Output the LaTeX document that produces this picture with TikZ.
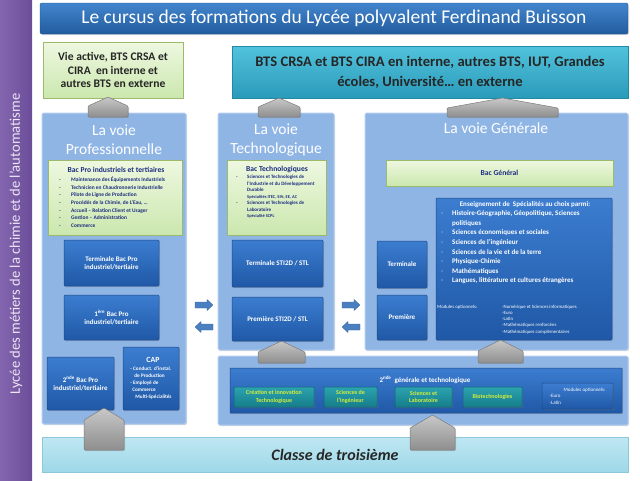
\documentclass[tikz,border=0pt]{standalone}
\usepackage{fontspec}
\setmainfont{Carlito}
\usetikzlibrary{shadows}
\definecolor{purpT}{HTML}{8466B0}
\definecolor{purpD}{HTML}{6B4C98}
\definecolor{lav}{HTML}{ECE6F5}
\definecolor{titT}{HTML}{4285CC}
\definecolor{titD}{HTML}{225C9E}
\definecolor{titB}{HTML}{1E4F8A}
\definecolor{gT}{HTML}{EEF8E0}
\definecolor{gD}{HTML}{CBE7AE}
\definecolor{gB}{HTML}{9CBB6A}
\definecolor{cyT}{HTML}{52C3DC}
\definecolor{cyD}{HTML}{2A9ABA}
\definecolor{cyB}{HTML}{2289A5}
\definecolor{panF}{HTML}{8FB5E5}
\definecolor{panB}{HTML}{B3CDEF}
\definecolor{dbT}{HTML}{3C7DD0}
\definecolor{dbD}{HTML}{1F58A6}
\definecolor{dbB}{HTML}{214C86}
\definecolor{tlT}{HTML}{2BA3AF}
\definecolor{tlD}{HTML}{167D8A}
\definecolor{tlB}{HTML}{0E6570}
\definecolor{ygreen}{HTML}{D4EE3A}
\definecolor{navy}{HTML}{1C2D80}
\definecolor{trT}{HTML}{BFE7F2}
\definecolor{trD}{HTML}{9ED8E8}
\definecolor{trB}{HTML}{8CC8DA}
\definecolor{arB}{HTML}{4A7FC0}
\definecolor{grT}{HTML}{C8C8C8}
\definecolor{grD}{HTML}{8E8E8E}
\definecolor{grB}{HTML}{7A7A7A}
\definecolor{bulG}{HTML}{9DB8DE}
\newcommand\myfs[2]{\fontsize{#1}{#2}\selectfont}
\begin{document}
\begin{tikzpicture}[x=1pt,y=-1pt,
  shad/.style={drop shadow={shadow xshift=1pt,shadow yshift=-1.2pt,opacity=0.3}},
  panel/.style={draw=panB,fill=panF,line width=1pt,rounded corners=1.5pt,shad,inner sep=0pt},
  dbox/.style={draw=dbB,top color=dbT,bottom color=dbD,line width=0.5pt,rounded corners=1pt,text=white,font=\bfseries\myfs{7}{8.6},align=center,inner sep=1pt,shad},
  gbox/.style={draw=gB,top color=gT,bottom color=gD,line width=0.6pt,inner sep=0pt,shad},
  tbox/.style={draw=tlB,top color=tlT,bottom color=tlD,line width=0.5pt,rounded corners=0.8pt,text=ygreen,font=\bfseries\myfs{6}{7.3},align=center,inner sep=0.5pt,shad},
  pent/.style={draw=grB,top color=grT,bottom color=grD,line width=0.5pt,rounded corners=1pt,shad},
  barrow/.style={fill=arB,draw=arB!80!black,line width=0.3pt},
  ptitle/.style={text=white,font=\myfs{15.5}{19},align=center,inner sep=0pt},
  lst/.style={anchor=north west,inner sep=0pt,align=left},
]
\useasboundingbox (0,0) rectangle (640,480);
% side bar
\shade[left color=purpT,right color=purpD] (0,0) rectangle (32,480);
\node[rotate=90,text=lav,font=\myfs{14.6}{16},inner sep=0pt] (side) at (16,244) {Lycée des métiers de la chimie et de l’automatisme};
% title
\node[draw=titB,top color=titT,bottom color=titD,rounded corners=2pt,minimum width=588,minimum height=31,text=white,font=\myfs{19.5}{22},shad,inner sep=0pt] (title) at (334,18.5) {Le cursus des formations du Lycée polyvalent Ferdinand Buisson};
% top outcomes
\node[gbox,minimum width=140,minimum height=56,font=\bfseries\myfs{11.6}{13.5},text=black!85,align=center] (vie) at (113,70) {Vie active, BTS CRSA et\\CIRA\ \ en interne et\\autres BTS en externe};
\node[draw=cyB,top color=cyT,bottom color=cyD,minimum width=396,minimum height=52,font=\bfseries\myfs{14.6}{20},text=black!85,align=center,shad,inner sep=0pt] (bts) at (430,72) {BTS CRSA et BTS CIRA en interne, autres BTS, IUT, Grandes\\écoles, Université… en externe};
% bottom bar
\node[draw=trB,top color=trT,bottom color=trD,minimum width=586,minimum height=35,font=\bfseries\itshape\myfs{16}{18},text=black!85,shad,inner sep=0pt] (troisieme) at (335,454.5) {Classe de troisième};
% panels
\node[panel,minimum width=144,minimum height=311] (pro) at (114,268.5) {};
\node[panel,minimum width=116,minimum height=237] (tech) at (276,231.5) {};
\node[panel,minimum width=263,minimum height=237] (gen) at (496.5,231.5) {};
\node[panel,minimum width=410,minimum height=69] (sec) at (423,390.5) {};
\node[ptitle] (protitle) at (114,140) {La voie\\Professionnelle};
\node[ptitle] (techtitle) at (276,140) {La voie\\Technologique};
\node[ptitle] (gentitle) at (496,128) {La voie Générale};
% pro contents
\node[gbox,minimum width=134,minimum height=75] (probac) at (115,197.5) {};
\node[text=navy,font=\bfseries\myfs{7.6}{9},inner sep=0pt] (probact) at (116,170) {Bac Pro industriels et tertiaires};
\node[lst,text=navy,font=\bfseries\myfs{5.4}{7.6}] (prolist) at (59,177) {\makebox[12pt][l]{-}Maintenance des Équipements Industriels\\\makebox[12pt][l]{-}Technicien en Chaudronnerie Industrielle\\\makebox[12pt][l]{-}Pilote de Ligne de Production\\\makebox[12pt][l]{-}Procédés de la Chimie, de L’Eau, …\\\makebox[12pt][l]{-}Accueil – Relation Client et Usager\\\makebox[12pt][l]{-}Gestion – Administration\\\makebox[12pt][l]{-}Commerce};
\node[dbox,minimum width=95,minimum height=46] (proterm) at (111.5,263) {Terminale Bac Pro\\industriel/tertiaire};
\node[dbox,minimum width=95,minimum height=45] (propre) at (111.5,317.5) {1\textsuperscript{ère} Bac Pro\\industriel/tertiaire};
\node[dbox,minimum width=67,minimum height=53] (prosec) at (80.5,383.5) {2\textsuperscript{nde} Bac Pro\\industriel/tertiaire};
\node[dbox,minimum width=56,minimum height=63,align=left,font=\bfseries\myfs{5.2}{7}] (cap) at (151,378.5) {\hspace*{16pt}{\myfs{7.8}{9}CAP}\\[1.5pt]- Conduct. d’instal.\\\hspace*{4pt}de Production\\- Employé de\\\hspace*{2pt}Commerce\\\hspace*{5pt}Multi-Spécialités};
% tech contents
\node[gbox,minimum width=99,minimum height=75] (techbac) at (276.5,197.5) {};
\node[text=navy,font=\bfseries\myfs{7.6}{9},inner sep=0pt] (techbact) at (277,169) {Bac Technologiques};
\node[lst,text=navy,font=\bfseries\myfs{5}{6.5}] (techlist) at (236,175) {\makebox[11pt][l]{-}Sciences et Technologies de\\\hspace*{11pt}l’Industrie et du Développement\\\hspace*{11pt}Durable\\\hspace*{11pt}{\myfs{4.4}{6.5}Spécialités ITEC, SIN, EE, AC}\\\makebox[11pt][l]{-}Sciences et Technologies de\\\hspace*{11pt}Laboratoire\\\hspace*{11pt}{\myfs{4.4}{6.5}Spécialité SCPL}};
\node[dbox,minimum width=91,minimum height=47] (techterm) at (277.5,263.5) {Terminale STI2D / STL};
\node[dbox,minimum width=91,minimum height=44] (techpre) at (277.5,319) {Première STI2D / STL};
% general contents
\node[gbox,minimum width=227,minimum height=26,text=navy,font=\bfseries\myfs{7.6}{9}] (genbac) at (499.5,173) {Bac Général};
\node[dbox,minimum width=50,minimum height=47] (genterm) at (402,264.5) {Terminale};
\node[dbox,minimum width=50,minimum height=45] (genpre) at (402,317.5) {Première};
\node[dbox,minimum width=176,minimum height=142] (spec) at (524,269) {};
\node[text=white,font=\bfseries\myfs{7}{8},inner sep=0pt] (spech) at (525,205) {Enseignement de\ \ Spécialités au choix parmi:};
\node[lst,text=white,font=\bfseries\myfs{7}{9.6}] (speclist) at (441,210.5) {\makebox[11pt][l]{\color{bulG}-}Histoire-Géographie, Géopolitique, Sciences\\\hspace*{11pt}politiques\\\makebox[11pt][l]{\color{bulG}-}Sciences économiques et sociales\\\makebox[11pt][l]{\color{bulG}-}Sciences de l’ingénieur\\\makebox[11pt][l]{\color{bulG}-}Sciences de la vie et de la terre\\\makebox[11pt][l]{\color{bulG}-}Physique-Chimie\\\makebox[11pt][l]{\color{bulG}-}Mathématiques\\\makebox[11pt][l]{\color{bulG}-}Langues, littérature et cultures étrangères};
\node[lst,text=white,font=\myfs{4.8}{6.3}] (modl) at (437,304.5) {Modules optionnels:};
\node[lst,text=white,font=\myfs{4.8}{6.3}] (modr) at (502,304.5) {-Numérique et Sciences informatiques\\-Euro\\-Latin\\-Mathématiques renforcées\\-Mathématiques complémentaires};
% seconde contents
\node[dbox,minimum width=392,minimum height=45,rounded corners=0.5pt] (secbox) at (426,390.5) {};
\node[text=white,font=\bfseries\myfs{7}{8},inner sep=0pt] (sect) at (425,380) {2\textsuperscript{nde}\ \ générale et technologique};
\node[tbox,minimum width=80,minimum height=20] (s1) at (274,397) {Création et innovation\\Technologique};
\node[tbox,minimum width=53,minimum height=20] (s2) at (350.5,397) {Sciences de\\l’ingénieur};
\node[tbox,minimum width=57,minimum height=20] (s3) at (423.5,397) {Sciences et\\Laboratoire};
\node[tbox,minimum width=59,minimum height=20] (s4) at (492.5,397) {Biotechnologies};
\node[dbox,minimum width=71,minimum height=26,font=\myfs{5}{6.3},align=left] (s5) at (577.5,396) {\hspace*{14pt}Modules optionnels:\\-Euro\\-Latin};
% block arrows
\path[pent] (88,117) -- (88,106) -- (108,97) -- (128,106) -- (128,117) -- cycle;
\path[pent] (258,117) -- (258,107) -- (279,98) -- (300,107) -- (300,117) -- cycle;
\path[pent] (447,117) -- (447,108) -- (502.5,98) -- (558,108) -- (558,117) -- cycle;
\path[pent] (258,363) -- (258,352) -- (281.5,341) -- (305,352) -- (305,363) -- cycle;
\path[pent] (478,363) -- (478,351) -- (500.5,340) -- (523,351) -- (523,363) -- cycle;
\path[pent] (84,450) -- (84,420) -- (104,408) -- (124,420) -- (124,450) -- cycle;
\path[pent] (410,450) -- (410,428) -- (432.5,415) -- (455,428) -- (455,450) -- cycle;
% small arrows between ways
\coordinate (a1) at (204,305);
\coordinate (a2) at (204,327);
\coordinate (a3) at (351,305);
\coordinate (a4) at (351,327);
\foreach \c in {a1,a3}
  \path[barrow,shift={(\c)}] (-9,-3) -- (3,-3) -- (3,-5.5) -- (9,0) -- (3,5.5) -- (3,3) -- (-9,3) -- cycle;
\foreach \c in {a2,a4}
  \path[barrow,shift={(\c)}] (9,-3) -- (-3,-3) -- (-3,-5.5) -- (-9,0) -- (-3,5.5) -- (-3,3) -- (9,3) -- cycle;
\end{tikzpicture}
\end{document}
